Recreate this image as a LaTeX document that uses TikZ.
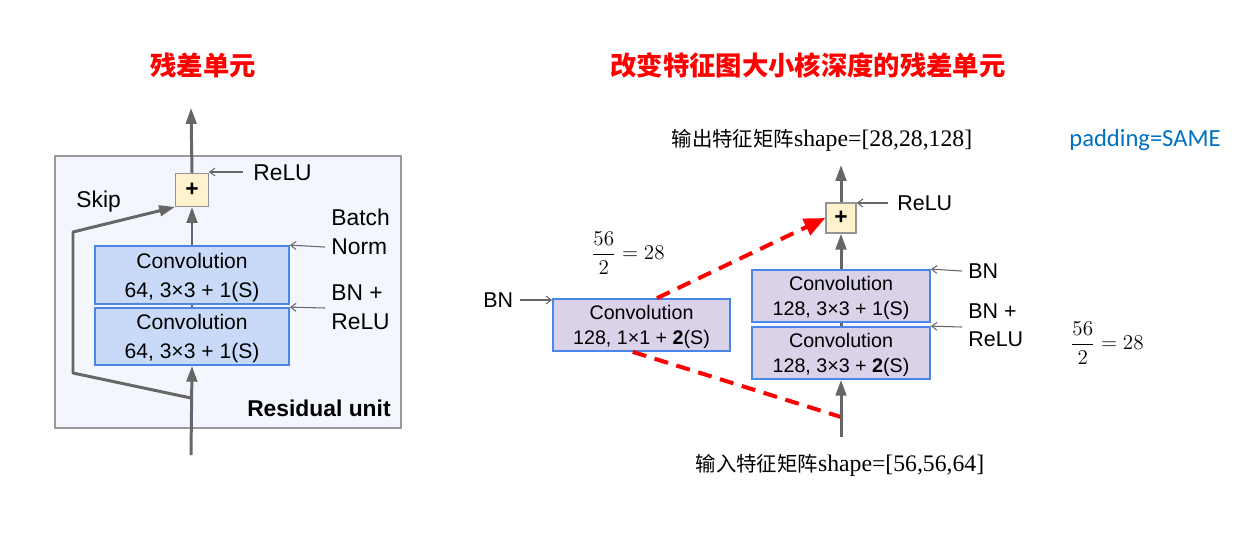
\documentclass[tikz,border=0pt]{standalone}
\usepackage{fontspec}
\usepackage{xcolor}
\setmainfont{Liberation Sans}
\newfontfamily\cjk{Noto Sans CJK SC}
\newfontfamily\shapefont{Liberation Serif}
\newfontfamily\calfont{Carlito}
\usetikzlibrary{arrows.meta}

\definecolor{convblue}{HTML}{C9DAF8}
\definecolor{convlav}{HTML}{D9D2E9}
\definecolor{convedge}{HTML}{4A86E8}
\definecolor{addfill}{HTML}{FFF2CC}
\definecolor{flow}{HTML}{666666}
\definecolor{panelbg}{HTML}{F3F7FD}
\definecolor{padblue}{HTML}{0070C0}

\tikzset{
  conv/.style={draw=convedge, line width=1pt, align=center, inner sep=0pt, text depth=0pt},
  addbox/.style={draw=flow!70, fill=addfill, line width=0.8pt, inner sep=0pt, font=\bfseries\fontsize{13}{13}\selectfont},
  flowline/.style={draw=flow, line width=1.7pt},
  flowarrow/.style={flowline, -{Triangle[length=9pt,width=6pt]}},
  hint/.style={draw=flow, line width=0.6pt, -{Straight Barb[length=3pt,width=4.5pt]}},
  tag/.style={align=left, inner sep=0pt, anchor=west},
  redskip/.style={draw=red, line width=2.3pt, dash pattern=on 8pt off 5pt},
  title/.style={text=red, font=\cjk\bfseries\fontsize{15}{18}\selectfont},
}

\begin{document}
\begin{tikzpicture}[x=0.02cm,y=-0.02cm]
    \useasboundingbox (0,0) rectangle (1240,539);

    % 标题
    \node[title] (titleL) at (203,65) {残差单元};
    \node[title] (titleR) at (808,65) {改变特征图大小核深度的残差单元};

    % 左边: 残差单元
    \draw[draw=black!40, fill=panelbg, line width=0.8pt] (55,156) rectangle (401,428);

    \coordinate (inL) at (191,455);
    \coordinate (outL) at (191,108);
    \coordinate (jL) at (191,398);
    \coordinate (skipA) at (73,373);
    \coordinate (skipB) at (73,232);

    \node[conv, fill=convblue, minimum width=3.88cm, minimum height=1.16cm,
          font=\fontsize{12}{16.6}\selectfont] (convA) at (192,275) {Convolution\\64, 3×3 + 1(S)};
    \node[conv, fill=convblue, minimum width=3.88cm, minimum height=1.14cm,
          font=\fontsize{12}{16.6}\selectfont] (convB) at (192,336.5) {Convolution\\64, 3×3 + 1(S)};
    \node[addbox, minimum size=0.65cm] (addL) at (192,190) {+};

    \draw[flowarrow] (inL) -- (convB.south);
    \draw[flowline] (convB.north) -- (convA.south);
    \draw[flowarrow] (convA.north) -- (addL.south);
    \draw[flowarrow] (addL.north) -- (outL);
    \draw[flowarrow, line join=round] (jL) -- (skipA) -- (skipB) -- (addL.south west);

    \node[tag, font=\fontsize{13}{16}\selectfont] (skipL) at (76,202) {Skip};
    \node[tag, font=\fontsize{13}{16}\selectfont] (reluL) at (253,173) {ReLU};
    \node[tag, font=\fontsize{13}{16.4}\selectfont] (bnormL) at (331,231.5) {Batch\\Norm};
    \node[tag, font=\fontsize{13}{16.4}\selectfont] (bnreluL) at (331,307.5) {BN +\\ReLU};
    \node[anchor=east, inner sep=0pt, font=\bfseries\fontsize{13}{16}\selectfont] (resL) at (391,408) {Residual unit};

    \coordinate (hReluL) at (243,172);
    \coordinate (hBnL) at (325,247);
    \coordinate (hBnReluL) at (325,308);
    \draw[hint] (hReluL) -- (hReluL -| addL.east);
    \draw[hint] (hBnL) -- (convA.north east);
    \draw[hint] (hBnReluL) -- (convB.north east);

    % 右边: 改变大小和深度的残差单元
    \coordinate (inR) at (841,437);
    \coordinate (outR) at (841,165);
    \coordinate (jR) at (841,417);

    \node[conv, fill=convlav, minimum width=3.56cm, minimum height=1.04cm,
          font=\fontsize{11.2}{14.2}\selectfont] (convC) at (841,296) {Convolution\\128, 3×3 + 1(S)};
    \node[conv, fill=convlav, minimum width=3.56cm, minimum height=1.04cm,
          font=\fontsize{11.2}{14.2}\selectfont] (convD) at (841,353) {Convolution\\128, 3×3 + \textbf{2}(S)};
    \node[conv, fill=convlav, minimum width=3.54cm, minimum height=1.04cm,
          font=\fontsize{11.2}{14.2}\selectfont] (convE) at (641.5,325) {Convolution\\128, 1×1 + \textbf{2}(S)};
    \node[addbox, minimum size=0.6cm] (addR) at (841,218) {+};

    \draw[redskip] (convE.-108) -- (jR);
    \draw[flowarrow] (inR) -- (convD.south);
    \draw[flowline] (convD.north) -- (convC.south);
    \draw[flowarrow] (convC.north) -- (addR.south);
    \draw[flowarrow] (addR.north) -- (outR);
    \draw[redskip, -{Triangle[length=12pt,width=10pt]}] (convE.60) -- (addR.west);

    \node[tag, font=\fontsize{12.2}{15}\selectfont] (reluR) at (897,203) {ReLU};
    \node[tag, font=\fontsize{12.2}{15}\selectfont] (bnR) at (968,271) {BN};
    \node[tag, font=\fontsize{12.2}{15.8}\selectfont] (bnreluR) at (968,325) {BN +\\ReLU};
    \node[tag, font=\fontsize{12.2}{15}\selectfont] (bnE) at (483,300) {BN};

    \coordinate (hReluR) at (888,203);
    \coordinate (hBnR) at (962,271);
    \coordinate (hBnReluR) at (962,327);
    \coordinate (hBnE) at (520,300);
    \draw[hint] (hReluR) -- (hReluR -| addR.east);
    \draw[hint] (hBnR) -- (convC.north east);
    \draw[hint] (hBnReluR) -- (convD.north east);
    \draw[hint] (hBnE) -- (hBnE -| convE.west);

    % 文字说明
    \node (outText) at (822,140) {{\cjk\fontsize{11.6}{14}\selectfont 输出特征矩阵}{\shapefont\fontsize{13.5}{16}\selectfont shape=[28,28,128]}};
    \node (inText) at (840,465) {{\cjk\fontsize{11.6}{14}\selectfont 输入特征矩阵}{\shapefont\fontsize{13.5}{16}\selectfont shape=[56,56,64]}};
    \node[text=padblue, font=\calfont\fontsize{14}{16}\selectfont] (padText) at (1145,140) {padding=SAME};
    \node[font=\fontsize{11.5}{14}\selectfont] (fracE) at (628,253) {$\displaystyle\frac{56}{2}=28$};
    \node[font=\fontsize{11.5}{14}\selectfont] (fracR) at (1107,343) {$\displaystyle\frac{56}{2}=28$};
\end{tikzpicture}
\end{document}
